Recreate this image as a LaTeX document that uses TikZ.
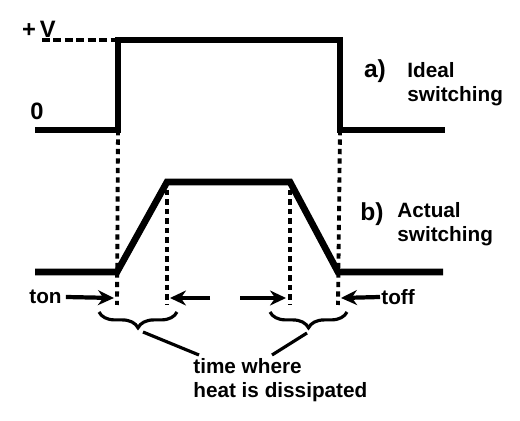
\documentclass[tikz,border=0pt]{standalone}
\usepackage{fontspec}
\setmainfont{Liberation Sans}
\usetikzlibrary{arrows.meta, positioning, decorations.pathreplacing}

\begin{document}
\begin{tikzpicture}[
    x=0.02cm, y=-0.02cm,
    wave/.style={
        line width=3.8pt,
        line join=miter
    },
    guide/.style={
        line width=2.2pt,
        dash pattern=on 3pt off 2.4pt
    },
    level/.style={
        line width=1.8pt,
        dash pattern=on 4.5pt off 2pt
    },
    arrow/.style={
        -{Stealth[length=3.2mm, width=3mm]},
        line width=2.4pt
    },
    label/.style={
        font=\bfseries\fontsize{11.8}{13.4}\selectfont,
        align=left,
        inner sep=0pt
    },
    tag/.style={
        font=\bfseries\fontsize{13.5}{15}\selectfont,
        inner sep=0pt
    },
    curly/.style={
        decorate,
        decoration={brace, mirror, amplitude=9pt, aspect=0.5},
        line width=1.8pt
    }
]
\useasboundingbox (0,0) rectangle (520,421);

% ideal waveform
\coordinate (a0) at (35,130);
\coordinate (a1) at (118,130);
\coordinate (a2) at (118,40);
\coordinate (a3) at (340,40);
\coordinate (a4) at (340,130);
\coordinate (a5) at (445,130);
\draw[wave] (a0) -- (a1) -- (a2) -- (a3) -- (a4) -- (a5);

\node[tag] (plusv) at (39,29) {+\,V};
\coordinate (vstart) at (42,40);
\draw[level] (vstart) -- (a2);
\node[tag] (zero) at (37,111) {0};

\node[tag, font=\bfseries\fontsize{14}{15}\selectfont] (lbla) at (375,71) {a)};
\node[label, anchor=west] (ideal) at (407,84) {Ideal\\switching};

% actual waveform
\coordinate (b0) at (35,272);
\coordinate (b1) at (117,272);
\coordinate (b2) at (167,182);
\coordinate (b3) at (290,182);
\coordinate (b4) at (338,272);
\coordinate (b5) at (443,272);
\draw[wave] (b0) -- (b1) -- (b2) -- (b3) -- (b4) -- (b5);

\node[tag, font=\bfseries\fontsize{14}{15}\selectfont] (lblb) at (372,214) {b)};
\node[label, anchor=west] (actual) at (397,224) {Actual\\switching};

% guide lines
\coordinate (g1) at (117,305);
\coordinate (g2) at (167,305);
\coordinate (g3) at (290,305);
\coordinate (g4) at (338,305);
\draw[guide] (a1) -- (g1);
\draw[guide] (167,190) -- (g2);
\draw[guide] (290,190) -- (g3);
\draw[guide] (a4) -- (g4);

% arrows
\node[label, anchor=west] (ton) at (29,297) {ton};
\node[label, anchor=west] (toff) at (381,297) {toff};
\coordinate (t1) at (114,298);
\coordinate (t2) at (210,298);
\coordinate (t3) at (170,298);
\coordinate (t4) at (240,298);
\coordinate (t5) at (286,298);
\coordinate (t6) at (341,298);
\draw[arrow] (ton.east) ++(4,0) -- (t1);
\draw[arrow] (t2) -- (t3);
\draw[arrow] (t4) -- (t5);
\draw[arrow] (toff.west) ++(-1,0) -- (t6);

% braces
\coordinate (c1) at (99,312);
\coordinate (c2) at (177,312);
\coordinate (c3) at (270,312);
\coordinate (c4) at (347,312);
\draw[curly] (c1) -- (c2);
\draw[curly] (c3) -- (c4);

\node[label, anchor=west] (heat) at (193,380) {time where\\heat is dissipated};
\draw[line width=1.8pt] (143,332) -- (199,355);
\draw[line width=1.8pt] (307,333) -- (272,355);

\end{tikzpicture}
\end{document}
